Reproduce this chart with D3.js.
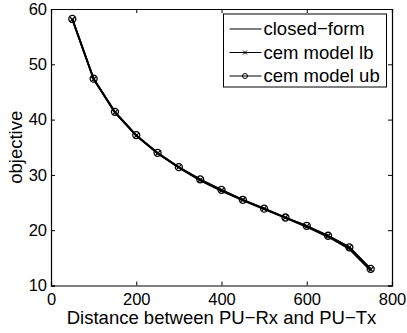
<!DOCTYPE html>
<html>
<head>
<meta charset="utf-8">
<script src="https://cdn.jsdelivr.net/npm/d3@7"></script>
<style>
  body { margin: 0; background: #fff; }
  text { font-family: "Liberation Sans", Arial, Helvetica, sans-serif; fill: #000; }
</style>
</head>
<body>
<script>
// objective vs distance, three curves that nearly overlap

var distance = [50, 100, 150, 200, 250, 300, 350, 400, 450, 500, 550, 600, 650, 700, 750];
var closedForm = [58.2, 47.4, 41.3, 37.1, 33.9, 31.3, 29.0, 27.1, 25.4, 23.8, 22.2, 20.6, 18.8, 16.6, 12.7];
var cemLb = [58.1, 47.3, 41.3, 37.1, 33.9, 31.4, 29.1, 27.2, 25.5, 23.9, 22.3, 20.7, 19.0, 16.9, 12.9];
var cemUb = [58.2, 47.4, 41.4, 37.2, 34.0, 31.4, 29.2, 27.3, 25.5, 23.9, 22.3, 20.8, 19.0, 16.9, 13.0];
var seriesNames = ["closed\u2212form", "cem model lb", "cem model ub"];
var xTicks = [0, 200, 400, 600, 800];
var yTicks = [10, 20, 30, 40, 50, 60];

var margin = {top: 9, right: 15, bottom: 47.5, left: 51};
var width = 407 - margin.left - margin.right;
var height = 333 - margin.top - margin.bottom;

var xScale = d3.scaleLinear().domain([0, 800]).range([0, width]);
var yScale = d3.scaleLinear().domain([10, 60]).range([height, 0]);

var svg = d3.select("body").append("svg")
    .attr("width", 407)
    .attr("height", 333)
    .append("g")
    .attr("transform", "translate(" + margin.left + "," + margin.top + ")");

svg.append("rect")
    .attr("width", width)
    .attr("height", height)
    .attr("fill", "#fff");

// matlab style axes: ticks point inward, mirrored on top and right
var xAxis = d3.axisBottom(xScale).tickValues(xTicks).tickSize(-4).tickPadding(8);
var yAxis = d3.axisLeft(yScale).tickValues(yTicks).tickSize(-4).tickPadding(4);

var gx = svg.append("g")
    .attr("transform", "translate(0," + height + ")")
    .call(xAxis);
var gy = svg.append("g").call(yAxis);

svg.append("g")
    .call(d3.axisTop(xScale).tickValues(xTicks).tickSize(-4).tickFormat(""));
svg.append("g")
    .attr("transform", "translate(" + width + ",0)")
    .call(d3.axisRight(yScale).tickValues(yTicks).tickSize(-4).tickFormat(""));

svg.selectAll(".domain").attr("stroke", "#000").attr("stroke-width", 1.2);
svg.selectAll(".tick line").attr("stroke", "#000");
gx.selectAll("text").style("font-size", "16.5px");
gy.selectAll("text").style("font-size", "16.5px").attr("dy", "0.32em");

var line = d3.line()
    .x(function(d) { return xScale(d[0]); })
    .y(function(d) { return yScale(d[1]); });

function pairs(vals) {
    return distance.map(function(x, i) { return [x, vals[i]]; });
}

[closedForm, cemLb, cemUb].forEach(function(vals) {
    svg.append("path")
        .datum(pairs(vals))
        .attr("d", line)
        .attr("fill", "none")
        .attr("stroke", "#000")
        .attr("stroke-width", 1.8);
});

// x markers for lb
svg.selectAll(".xmark")
    .data(pairs(cemLb))
    .enter().append("path")
    .attr("class", "xmark")
    .attr("transform", function(d) { return "translate(" + xScale(d[0]) + "," + yScale(d[1]) + ")"; })
    .attr("d", "M-2.5,-2.5L2.5,2.5M-2.5,2.5L2.5,-2.5")
    .attr("stroke", "#000")
    .attr("stroke-width", 1.2);

// o markers for ub
svg.selectAll(".omark")
    .data(pairs(cemUb))
    .enter().append("circle")
    .attr("class", "omark")
    .attr("cx", function(d) { return xScale(d[0]); })
    .attr("cy", function(d) { return yScale(d[1]); })
    .attr("r", 3.5)
    .attr("fill", "none")
    .attr("stroke", "#000")
    .attr("stroke-width", 1.3);

// axis labels
svg.append("text")
    .attr("x", width / 2)
    .attr("y", height + 38.5)
    .attr("text-anchor", "middle")
    .style("font-size", "18.5px")
    .text("Distance between PU\u2212Rx and PU\u2212Tx");

svg.append("text")
    .attr("transform", "rotate(-90)")
    .attr("x", -height / 2)
    .attr("y", -29)
    .attr("text-anchor", "middle")
    .style("font-size", "18.5px")
    .text("objective");

// legend
var legend = svg.append("g").attr("transform", "translate(" + (223.5 - margin.left) + "," + (14 - margin.top) + ")");
legend.append("rect")
    .attr("width", 163)
    .attr("height", 73)
    .attr("fill", "#fff")
    .attr("stroke", "#000")
    .attr("stroke-width", 1);

var rows = legend.selectAll(".row")
    .data(seriesNames)
    .enter().append("g")
    .attr("class", "row")
    .attr("transform", function(d, i) { return "translate(0," + (15 + i * 23.5) + ")"; });

rows.append("line")
    .attr("x1", 6).attr("x2", 38)
    .attr("stroke", "#000")
    .attr("stroke-width", 1.2);

rows.filter(function(d, i) { return i === 1; })
    .append("path")
    .attr("d", "M19.5,-2L23.5,2M19.5,2L23.5,-2")
    .attr("stroke", "#000")
    .attr("stroke-width", 1);

rows.filter(function(d, i) { return i === 2; })
    .append("circle")
    .attr("cx", 21.5)
    .attr("r", 2.5)
    .attr("fill", "none")
    .attr("stroke", "#000")
    .attr("stroke-width", 1);

rows.append("text")
    .attr("x", 40)
    .attr("dy", "0.35em")
    .style("font-size", "18.5px")
    .text(function(d) { return d; });
</script>
</body>
</html>
